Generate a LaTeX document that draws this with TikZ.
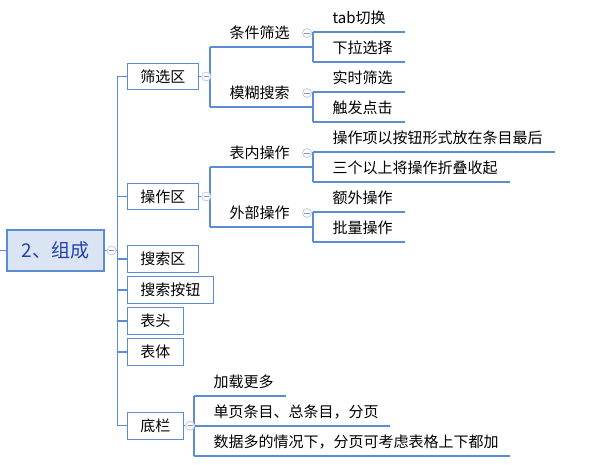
\documentclass[tikz,border=0pt]{standalone}
\usepackage{fontspec}
\setmainfont{Noto Sans CJK SC}
\usepackage{xcolor}
\usetikzlibrary{positioning}

\definecolor{linec}{RGB}{91,141,213}
\definecolor{rootfill}{RGB}{219,228,243}
\definecolor{roottext}{RGB}{36,66,168}
\definecolor{foldc}{RGB}{188,202,236}
\definecolor{foldm}{RGB}{140,150,178}

\tikzset{
  topic/.style={draw=linec, fill=white, anchor=west, inner xsep=13pt, inner ysep=0pt,
    minimum height=26.7pt, font=\fontsize{15}{18}\selectfont},
  leaf/.style={anchor=south west, text width=#1, inner xsep=0pt, inner ysep=8pt,
    text depth=0pt, font=\fontsize{15}{18}\selectfont,
    execute at begin node={\hspace*{19pt}}},
  fold/.style={circle, draw=foldc, fill=white, line width=0.8pt, minimum size=9pt, inner sep=0pt,
    path picture={\draw[foldm, line width=0.8pt]
      ([xshift=-2.6pt]path picture bounding box.center) -- ([xshift=2.6pt]path picture bounding box.center);}}
}

\begin{document}
\begin{tikzpicture}[x=1pt, y=-1pt, line width=1.1pt]
\useasboundingbox (0,0) rectangle (593,464);

\node[draw=linec, fill=rootfill, text=roottext, minimum width=97pt, minimum height=41pt,
  font=\fontsize{19}{22}\selectfont] (root) at (55.5,250.5) {2、组成};
\coordinate (stub) at (0,250.5);
\coordinate (trunk) at (117.3,250.5);

\node[topic] (shaixuan) at (126.7,76.5) {筛选区};
\node[topic] (caozuo) at (126.7,196.5) {操作区};
\node[topic] (sousuo) at (126.7,259) {搜索区};
\node[topic] (anniu) at (126.7,290) {搜索按钮};
\node[topic] (biaotou) at (126.7,321) {表头};
\node[topic] (biaoti) at (126.7,352) {表体};
\node[topic] (dilan) at (126.7,425.8) {底栏};

\node[leaf=103pt] (tiaojian) at (210,47) {条件筛选};
\node[leaf=103pt] (mohu) at (210,107) {模糊搜索};
\node[leaf=103pt] (biaonei) at (210,167) {表内操作};
\node[leaf=103pt] (waibu) at (210,227) {外部操作};

\node[leaf=91pt] (tab) at (313,32) {tab切换};
\node[leaf=91pt] (xiala) at (313,62) {下拉选择};
\node[leaf=91pt] (shishi) at (313,92) {实时筛选};
\node[leaf=91pt] (chufa) at (313,122) {触发点击};
\node[leaf=241pt] (anxiang) at (313,152) {操作项以按钮形式放在条目最后};
\node[leaf=196pt] (zhedie) at (313,182) {三个以上将操作折叠收起};
\node[leaf=91pt] (ewai) at (313,212) {额外操作};
\node[leaf=91pt] (piliang) at (313,242) {批量操作};

\node[leaf=91pt] (jiazai) at (194,396) {加载更多};
\node[leaf=195pt] (danye) at (194,426) {单页条目、总条目，分页};
\node[leaf=315pt] (shuju) at (194,456) {数据多的情况下，分页可考虑表格上下都加};

\begin{scope}[linec]
\draw (stub) -- (root.west);
\draw (root.east) -- (trunk);
\draw (trunk |- shaixuan.west) -- (trunk |- dilan.west);
\foreach \n in {shaixuan, caozuo, sousuo, anniu, biaotou, biaoti, dilan}
  \draw (trunk |- \n.west) -- (\n.west);

\draw (shaixuan.east) -- (shaixuan.east -| tiaojian.south west);
\draw (tiaojian.south west) -- (mohu.south west);
\draw (caozuo.east) -- (caozuo.east -| biaonei.south west);
\draw (biaonei.south west) -- (waibu.south west);
\draw (tab.south west) -- (xiala.south west);
\draw (shishi.south west) -- (chufa.south west);
\draw (anxiang.south west) -- (zhedie.south west);
\draw (ewai.south west) -- (piliang.south west);
\draw (dilan.east) -- (dilan.east -| danye.south west);
\draw (jiazai.south west) -- (shuju.south west);

\foreach \n in {tiaojian, mohu, biaonei, waibu, tab, xiala, shishi, chufa,
  anxiang, zhedie, ewai, piliang, jiazai, danye, shuju}
  \draw (\n.south west) -- (\n.south east);
\end{scope}

\node[fold] (f0) at ([xshift=7pt]root.east) {};
\node[fold] (f1) at ([xshift=7.5pt]shaixuan.east) {};
\node[fold] (f2) at ([xshift=7.5pt]caozuo.east) {};
\node[fold] (f3) at ([xshift=6.3pt]dilan.east) {};
\node[fold] (f4) at ([xshift=-6pt, yshift=-1pt]tab.south west) {};
\node[fold] (f5) at ([xshift=-6pt, yshift=-1pt]shishi.south west) {};
\node[fold] (f6) at ([xshift=-6pt, yshift=-1pt]anxiang.south west) {};
\node[fold] (f7) at ([xshift=-6pt, yshift=-1pt]ewai.south west) {};

\end{tikzpicture}
\end{document}
